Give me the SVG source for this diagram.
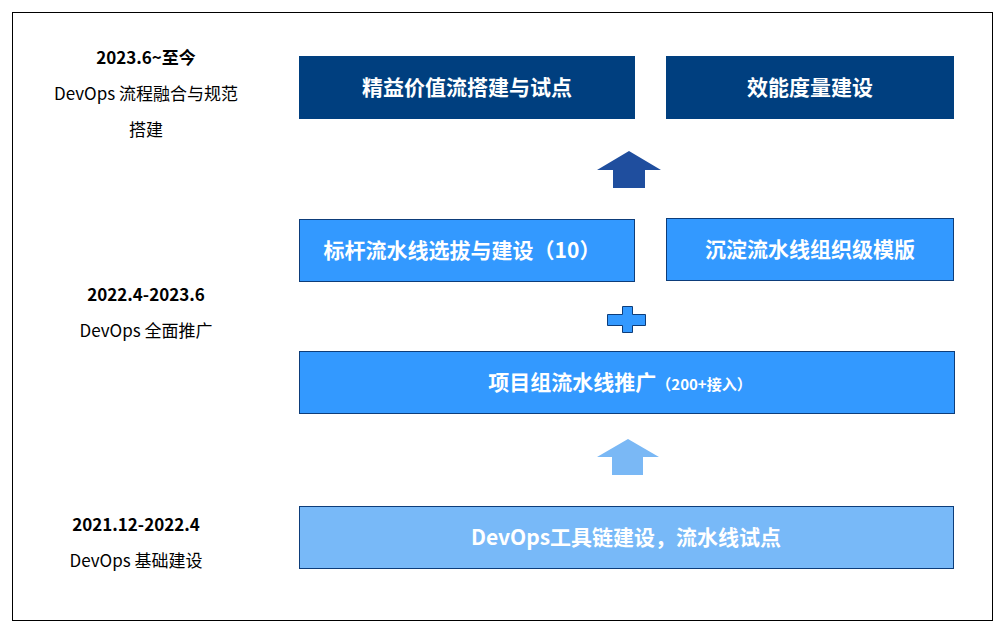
<svg xmlns="http://www.w3.org/2000/svg" width="1004" height="631" viewBox="0 0 1004 631">
<style>
.t{font-family:"Noto Sans CJK SC","Liberation Sans",sans-serif;font-weight:bold;fill:#fff;text-anchor:middle;font-size:21px}
.l{font-family:"Noto Sans CJK SC","Liberation Sans",sans-serif;fill:#000;text-anchor:middle;font-size:17px}
.b{font-weight:bold}
.d{fill:#003f7f}
.m{fill:#3399ff;stroke:#0d3d7a;stroke-width:1}
</style>
<rect x="12.5" y="12.5" width="980" height="608" fill="#fff" stroke="#000"/>
<g id="labels">
<text class="l b" x="146" y="64">2023.6~至今</text>
<text class="l" x="146" y="100">DevOps 流程融合与规范</text>
<text class="l" x="146" y="136">搭建</text>
<text class="l b" x="146" y="301">2022.4-2023.6</text>
<text class="l" x="146" y="337">DevOps 全面推广</text>
<text class="l b" x="136" y="531">2021.12-2022.4</text>
<text class="l" x="136" y="567">DevOps 基础建设</text>
</g>
<g id="n1"><rect class="d" x="299" y="56" width="336" height="63"/><text class="t" x="467" y="95">精益价值流搭建与试点</text></g>
<g id="n2"><rect class="d" x="666" y="56" width="288" height="63"/><text class="t" x="810" y="95">效能度量建设</text></g>
<g id="n3"><rect class="m" x="299.5" y="219.5" width="335" height="62"/><text class="t" x="462" y="258">标杆流水线选拔与建设（10）</text></g>
<g id="n4"><rect class="m" x="666.5" y="218.5" width="287" height="62"/><text class="t" x="810" y="257">沉淀流水线组织级模版</text></g>
<g id="n5"><rect class="m" x="299.5" y="351.5" width="655" height="62"/><text class="t" x="620" y="390">项目组流水线推广<tspan font-size="15">（200+接入）</tspan></text></g>
<g id="n6"><rect x="299.5" y="506.5" width="654" height="62" fill="#78b9f8" stroke="#0d3d7a"/><text class="t" x="626" y="545">DevOps工具链建设，流水线试点</text></g>
<g id="connectors">
<polygon points="629,151 661,170 645,170 645,188 613,188 613,170 597,170" fill="#1f4e9e"/>
<polygon points="622.5,306.5 632.5,306.5 632.5,314.5 645.5,314.5 645.5,325.5 632.5,325.5 632.5,332.5 622.5,332.5 622.5,325.5 607.5,325.5 607.5,314.5 622.5,314.5" fill="#3399ff" stroke="#0d3d7a"/>
<polygon points="628,439 659,457 643,457 643,475 612,475 612,457 597,457" fill="#7ab8f5"/>
</g>
</svg>
